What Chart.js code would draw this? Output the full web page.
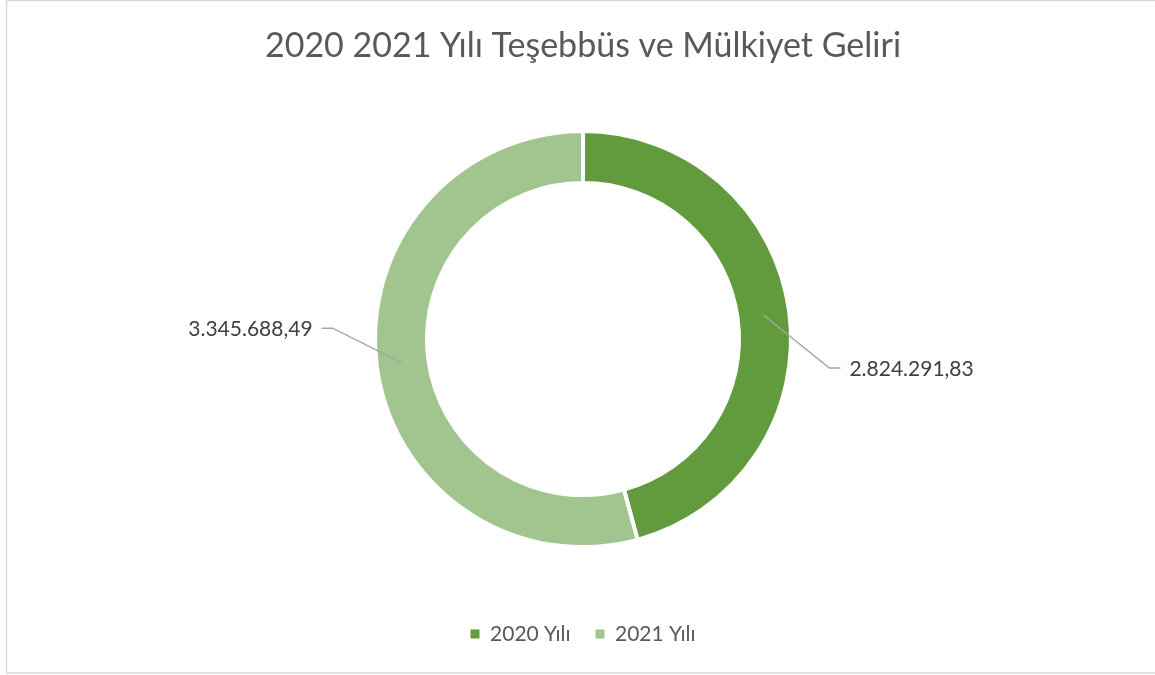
<!DOCTYPE html>
<html>
<head>
<meta charset="utf-8">
<script src="https://cdn.jsdelivr.net/npm/chart.js@4/dist/chart.umd.min.js"></script>
<style>
  html, body { margin: 0; padding: 0; background: #ffffff; }
  #wrap { position: relative; width: 1155px; height: 675px; }
</style>
</head>
<body>
<div id="wrap"><canvas id="c" width="1155" height="675"></canvas></div>
<script>
const categories = ["2020 Yılı", "2021 Yılı"];
const values = [2824291.83, 3345688.49];
const valueLabels = ["2.824.291,83", "3.345.688,49"];
const colors = ["#619B3D", "#A2C48F"];
const titleText = "2020 2021 Yılı Teşebbüs ve Mülkiyet Geliri";

// label leader offsets relative to the slice anchor point: [elbowDx, elbowDy, direction]
const leaderOffsets = [[66, 53, 1], [-70, -35, -1]];

const framePlugin = {
  id: 'frame',
  beforeDraw(chart) {
    const ctx = chart.ctx;
    ctx.save();
    ctx.strokeStyle = '#d9d9d9';
    ctx.lineWidth = 1.5;
    ctx.strokeRect(6.5, 0.5, 1160, 672.5);
    ctx.restore();
  }
};

const labelPlugin = {
  id: 'leaderLabels',
  afterDatasetsDraw(chart) {
    const ctx = chart.ctx;
    const meta = chart.getDatasetMeta(0);
    ctx.save();
    meta.data.forEach((arc, i) => {
      const p = arc.getProps(['x', 'y', 'startAngle', 'endAngle', 'innerRadius', 'outerRadius'], true);
      const a = (p.startAngle + p.endAngle) / 2;
      const r = (p.innerRadius + p.outerRadius) / 2;
      const sx = p.x + Math.cos(a) * r;
      const sy = p.y + Math.sin(a) * r;
      const [dx, dy, dir] = leaderOffsets[i];
      const ex = sx + dx, ey = sy + dy;
      const hx = ex + dir * 11;
      ctx.strokeStyle = '#a6a6a6';
      ctx.lineWidth = 1.5;
      ctx.beginPath();
      ctx.moveTo(sx, sy);
      ctx.lineTo(ex, ey);
      ctx.lineTo(hx, ey);
      ctx.stroke();
      ctx.fillStyle = '#404040';
      ctx.font = '21px Lato, "Open Sans", sans-serif';
      ctx.textBaseline = 'middle';
      ctx.textAlign = dir > 0 ? 'left' : 'right';
      ctx.fillText(valueLabels[i], hx + dir * 9, ey + 1);
    });
    ctx.restore();
  }
};

new Chart(document.getElementById('c'), {
  type: 'doughnut',
  data: {
    labels: categories,
    datasets: [{
      data: values,
      backgroundColor: colors,
      borderColor: '#ffffff',
      borderWidth: 4,
      hoverOffset: 0
    }]
  },
  options: {
    responsive: false,
    animation: false,
    radius: 208,
    cutout: '75%',
    layout: { padding: { left: 11, right: 0, top: 0, bottom: 20.6 } },
    plugins: {
      title: {
        display: true,
        text: titleText,
        color: '#595959',
        font: { family: 'Lato, "Open Sans", sans-serif', size: 34, weight: 'normal', lineHeight: 1.2 },
        padding: { top: 26, bottom: 13 }
      },
      legend: {
        display: true,
        position: 'bottom',
        labels: {
          color: '#595959',
          boxWidth: 9,
          boxHeight: 9,
          padding: 25,
          font: { family: 'Lato, "Open Sans", sans-serif', size: 21, lineHeight: 1.2 },
          generateLabels(chart) {
            const items = Chart.overrides.doughnut.plugins.legend.labels.generateLabels(chart);
            items.forEach(it => { it.lineWidth = 0; it.strokeStyle = it.fillStyle; });
            return items;
          }
        }
      },
      tooltip: { enabled: false }
    }
  },
  plugins: [framePlugin, labelPlugin]
});
</script>
</body>
</html>
